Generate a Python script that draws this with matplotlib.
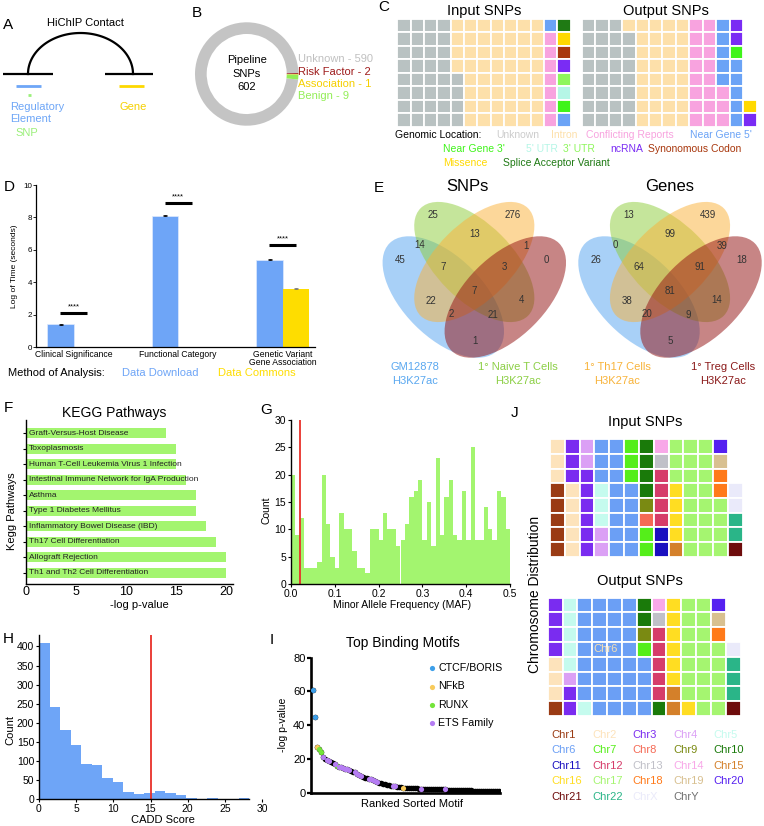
import numpy as np
import matplotlib
matplotlib.use('Agg')
import matplotlib.pyplot as plt
from matplotlib.patches import Ellipse, Rectangle

plt.rcParams['font.family'] = ['Liberation Sans', 'DejaVu Sans']

# ------------------------------------------------------------------ data
# B: pipeline SNP clinical significance
b_labels = ['Unknown', 'Risk Factor', 'Association', 'Benign']
b_values = [590, 2, 1, 9]
b_total = 602
b_colors = ['#c4c4c4', '#9e1b1b', '#ffd800', '#93ee57']
b_text_colors = ['#c0c0c0', '#9e1b1b', '#f5cf00', '#93ee57']

# C: genomic location waffles
c_codes = list('UICFTPQNYMA')
c_names = ['Unknown', 'Intron', 'Conflicting Reports', "Near Gene 5'", "Near Gene 3'",
           "5' UTR", "3' UTR", 'ncRNA', 'Synonomous Codon', 'Missence',
           'Splice Acceptor Variant']
c_colors = ['#b9c2c2', '#fde0aa', '#f8a3df', '#6ba3f6', '#3ff41a', '#b5f6e6',
            '#8ef65c', '#7a2cf4', '#a8370d', '#ffd900', '#1f7a14']
c_text_colors = ['#cccccc', '#fde0aa', '#f8a3df', '#6ba3f6', '#3ff41a', '#b5f6e6',
                 '#8ef65c', '#7a2cf4', '#a8370d', '#ffd900', '#1f7a14']
c_input_rows = ["UUUUIIIIIIIFA",
                "UUUUIIIIIIICM",
                "UUUUIIIIIIICY",
                "UUUUIIIIIIICN",
                "UUUUUIIIIIICQ",
                "UUUUUIIIIIICP",
                "UUUUUIIIIIICT",
                "UUUUUIIIIIICF"]
c_output_rows = ["UUUIIIIICCFN.",
                 "UUUUIIIICCFN.",
                 "UUUUIIIICCFT.",
                 "UUUUIIIICCFF.",
                 "UUUUIIIICCFF.",
                 "UUUUIIIICCCF.",
                 "UUUUIIIICCCFM",
                 "UUUUIIIICCCFN"]

# D: time comparison
d_categories = ['Clinical Significance', 'Functional Category',
                'Genetic Variant\nGene Association']
d_download = [1.4, 8.1, 5.4]
d_download_err = [0.03, 0.02, 0.05]
d_commons = [0.0, 0.0, 3.6]
d_commons_err = [0.0, 0.0, 0.03]
d_sig_heights = [2.1, 8.9, 6.3]
d_sig_marks = ['****', '****', '****']

# E: Venn diagrams
venn_set_labels = ['GM12878\nH3K27ac', '1° Naive T Cells\nH3K27ac',
                   '1° Th17 Cells\nH3K27ac', '1° Treg Cells\nH3K27ac']
venn_fill_colors = ['#53a3f0', '#8dcd39', '#fbb137', '#951515']
venn_label_colors = ['#5aa8f0', '#8ccf45', '#f8b33a', '#8b1a1a']
venn_regions = ['B', 'C', 'BC', 'AB', 'CD', 'A', 'D', 'ABC', 'BCD', 'ABCD',
                'AC', 'BD', 'ACD', 'ABD', 'AD']
venn_snps = [25, 276, 13, 14, 1, 45, 0, 7, 3, 7, 22, 4, 2, 21, 1]
venn_genes = [13, 439, 99, 0, 39, 26, 18, 64, 91, 81, 38, 14, 20, 9, 5]

# F: KEGG pathways
kegg_pathways = ['Graft-Versus-Host Disease', 'Toxoplasmosis',
                 'Human T-Cell Leukemia Virus 1 Infection',
                 'Intestinal Immune Network for IgA Production', 'Asthma',
                 'Type 1 Diabetes Mellitus', 'Inflammatory Bowel Disease (IBD)',
                 'Th17 Cell Differentiation', 'Allograft Rejection',
                 'Th1 and Th2 Cell Differentiation']
kegg_logp = [14, 15, 15, 16, 17, 17, 18, 19, 20, 20]

# G: minor allele frequency histogram (bin width 0.01)
maf_bin_width = 0.01
maf_counts = [20, 9, 12, 3, 3, 3, 4, 20, 11, 5, 3, 13, 10, 10, 6, 3, 3, 2, 10, 10,
              8, 13, 10, 10, 7, 8, 11, 16, 17, 19, 8, 15, 7, 23, 9, 16, 19, 9, 8, 17,
              8, 25, 8, 8, 14, 10, 8, 17, 16, 10]
maf_threshold = 0.02

# H: CADD score histogram
cadd_bin_width = 1.415
cadd_counts = [410, 242, 181, 142, 92, 90, 56, 45, 18, 14, 15, 20, 17, 10, 3, 1,
               3, 1, 1, 2]
cadd_threshold = 15

# I: ranked motifs (-log p-value by rank)
motif_logp = [61, 45, 27, 26, 24, 21, 20, 19.5, 19, 18, 17.5, 17, 16, 15.5, 15,
              14.5, 14, 14, 13.5, 13, 12.5, 12, 11, 10.5, 10, 9.5, 9, 8.5, 8, 8,
              7.5, 7, 6.5, 6, 5.5, 5, 5, 4.5, 4.5, 4, 4, 3.8, 3.5, 3.5, 3.2, 3,
              3, 3, 2.8, 2.8, 2.7, 2.5, 2.5, 2.3, 2.2, 2.2, 2, 2, 2, 2, 2, 2, 2,
              2, 2, 2, 2, 1.8, 1.8, 1.7, 1.7, 1.6, 1.6, 1.5, 1.5, 1.5, 1.5, 1.4,
              1.4, 1.4, 1.3, 1.3, 1.3, 1.2, 1.2, 1.2, 1.1, 1.1, 1.1, 1, 1, 1, 1, 1]
motif_families = ['CTCF/BORIS', 'NFkB', 'RUNX', 'ETS Family']
motif_family_colors = ['#3d9fe9', '#f8cb5c', '#74e43a', '#b57df3']
motif_family_ranks = [[1, 2],
                      [3, 46],
                      [4, 5, 13],
                      [6, 8, 9, 12, 14, 15, 16, 17, 18, 19, 22, 23, 24, 25, 29, 30,
                       31, 32, 33, 41, 42, 55, 67]]

# J: chromosome waffles
chr_names = ['Chr%d' % i for i in range(1, 23)] + ['ChrX', 'ChrY']
chr_colors = ['#9a3b14', '#fde3bb', '#7a2cf0', '#dba0f5', '#c5fbee', '#6b9ff5',
              '#55ee1a', '#f56a55', '#7a8a12', '#1a7a0a', '#1a10c0', '#d63c6a',
              '#c0c0c8', '#f8a8e8', '#d4802a', '#ffdd22', '#a5f570', '#ff7a1a',
              '#d8c090', '#5520f0', '#6e0c0c', '#2ab588', '#eaeafa', '#707070']
j_input_rows = [[2, 3, 4, 6, 6, 7, 10, 14, 17, 17, 17, 20, 0],
                [2, 3, 4, 6, 6, 7, 10, 13, 17, 17, 17, 19, 0],
                [2, 3, 3, 6, 6, 7, 10, 12, 17, 17, 17, 18, 0],
                [1, 2, 3, 5, 6, 6, 10, 12, 16, 17, 17, 18, 23],
                [1, 2, 3, 5, 6, 6, 9, 12, 16, 17, 17, 17, 23],
                [1, 2, 3, 5, 6, 6, 8, 12, 16, 17, 17, 17, 22],
                [1, 2, 3, 4, 6, 6, 7, 11, 16, 17, 17, 17, 22],
                [1, 2, 3, 4, 6, 6, 7, 11, 15, 17, 17, 17, 21]]
j_output_rows = [[3, 5, 6, 6, 6, 6, 10, 14, 16, 17, 17, 20, 0],
                 [3, 5, 6, 6, 6, 6, 10, 13, 16, 17, 17, 19, 0],
                 [3, 5, 6, 6, 6, 6, 9, 12, 16, 17, 17, 18, 0],
                 [3, 5, 6, 6, 6, 6, 7, 12, 16, 17, 17, 17, 23],
                 [2, 5, 6, 6, 6, 6, 6, 12, 16, 17, 17, 17, 22],
                 [2, 4, 6, 6, 6, 6, 6, 12, 16, 17, 17, 17, 22],
                 [2, 3, 6, 6, 6, 6, 6, 12, 15, 17, 17, 17, 22],
                 [1, 3, 5, 6, 6, 6, 6, 10, 15, 16, 17, 17, 21]]

# ------------------------------------------------------------------ helpers
W, H = 764, 826
fig = plt.figure(figsize=(W / 100, H / 100), dpi=100)
fig.patch.set_facecolor('white')


def px_axes(x0, y0, x1, y1):
    return fig.add_axes([x0 / W, 1 - y1 / H, (x1 - x0) / W, (y1 - y0) / H])


def ftext(x, y, s, **kw):
    kw.setdefault('ha', 'center')
    kw.setdefault('va', 'center')
    return fig.text(x / W, 1 - y / H, s, **kw)


def clean(ax, lw=1.0):
    for s in ['top', 'right']:
        ax.spines[s].set_visible(False)
    for s in ['left', 'bottom']:
        ax.spines[s].set_linewidth(lw)


def waffle(ax, rows, colormap, lw=1.3):
    nr, nc = len(rows), len(rows[0])
    for r, row in enumerate(rows):
        for c, code in enumerate(row):
            if code in colormap:
                ax.add_patch(Rectangle((c, r), 1, 1, facecolor=colormap[code],
                                       edgecolor='white', linewidth=lw))
    ax.set_xlim(0, nc)
    ax.set_ylim(nr, 0)
    ax.axis('off')


# overlay in pixel coordinates (diagram panel A)
ov = px_axes(0, 0, W, H)
ov.set_xlim(0, W)
ov.set_ylim(H, 0)
ov.axis('off')

# panel letters
for lab, x, y in [('A', 8, 25), ('B', 197, 13), ('C', 384, 7), ('D', 9, 187),
                  ('E', 379, 188), ('F', 8, 408), ('G', 266, 410), ('H', 8, 639),
                  ('I', 272, 640), ('J', 515, 413)]:
    ftext(x, y, lab, fontsize=11)

# ------------------------------------------------------------------ A
ov.plot([3, 53], [74, 74], color='black', lw=1.6, solid_capstyle='butt')
ov.plot([105, 153], [74, 74], color='black', lw=1.6, solid_capstyle='butt')
t = np.linspace(0, np.pi, 100)
ov.plot(80.5 + 52.5 * np.cos(t), 74 - 41 * np.sin(t), color='black', lw=1.6)
ov.plot([16, 41], [86, 86], color='#6ea6f7', lw=2.0, solid_capstyle='butt')
ov.plot([119, 144], [86, 86], color='#fdd800', lw=2.0, solid_capstyle='butt')
ov.plot([27.5, 30.5], [95, 95], color='#9bf07a', lw=2.0, solid_capstyle='butt')
ftext(85, 23.5, 'HiChIP Contact', fontsize=8)
ftext(10, 106.5, 'Regulatory', fontsize=8, ha='left', color='#6ea6f7')
ftext(10, 118.5, 'Element', fontsize=8, ha='left', color='#6ea6f7')
ftext(133, 106.5, 'Gene', fontsize=8, color='#f5d000')
ftext(27, 133, 'SNP', fontsize=8, color='#9bf07a')

# ------------------------------------------------------------------ B
axb = px_axes(195, 22.3, 298.4, 125.7)
axb.pie(b_values, colors=b_colors, startangle=-6.2, counterclock=False,
        wedgeprops=dict(width=0.226, linewidth=0))
axb.set_xlim(-1, 1)
axb.set_ylim(-1, 1)
axb.set_aspect('equal')
ftext(246.7, 60, 'Pipeline', fontsize=8)
ftext(246.7, 74, 'SNPs', fontsize=8)
ftext(246.7, 87.5, str(b_total), fontsize=8)
for i, (lab, val) in enumerate(zip(b_labels, b_values)):
    ftext(298, 59.3 + 12.3 * i, '%s - %d' % (lab, val), fontsize=8, ha='left',
          color=b_text_colors[i])

# ------------------------------------------------------------------ C
cmap_c = dict(zip(c_codes, c_colors))
axc1 = px_axes(397.3, 19, 570.7, 126.7)
waffle(axc1, c_input_rows, cmap_c)
axc2 = px_axes(581.7, 19, 756.7, 126.7)
waffle(axc2, c_output_rows, cmap_c)
ftext(484, 11.5, 'Input SNPs', fontsize=10.5)
ftext(666, 11.5, 'Output SNPs', fontsize=10.5)
ftext(395, 135.5, 'Genomic Location:', fontsize=7.5, ha='left')
c_leg_x = [496.7, 550.7, 586, 690, 443.3, 525.7, 562.7, 610, 648.3, 443.3, 502.7]
c_leg_y = [135.5] * 4 + [149.5] * 5 + [163] * 2
for name, col, x, y in zip(c_names, c_text_colors, c_leg_x, c_leg_y):
    ftext(x, y, name, fontsize=7.5, ha='left', color=col)

# ------------------------------------------------------------------ D
axd = px_axes(36, 185, 315, 347)
xg = np.arange(len(d_categories))
bw = 0.25
axd.bar(xg - bw / 2, d_download, bw, color='#6ea5f7', edgecolor='#dfeafd',
        linewidth=0.5, yerr=d_download_err, error_kw=dict(lw=0.6, capsize=1.2,
                                                           capthick=0.6))
cm = np.array(d_commons)
sel = cm > 0
axd.bar(xg[sel] + bw / 2, cm[sel], bw, color='#fedd00', linewidth=0,
        yerr=np.array(d_commons_err)[sel],
        error_kw=dict(lw=0.6, capsize=1.2, capthick=0.6, ecolor='#777777'))
for x, h, s in zip(xg, d_sig_heights, d_sig_marks):
    axd.plot([x - 0.13, x + 0.13], [h, h], color='black', lw=2.2,
             solid_capstyle='butt')
    axd.text(x, h + 0.18, s, ha='center', va='bottom', fontsize=5.5)
axd.set_xlim(-0.36, 2.31)
axd.set_ylim(0, 10)
axd.set_yticks([0, 2, 4, 6, 8, 10])
axd.set_xticks(xg)
axd.set_xticklabels(d_categories, fontsize=6.2, linespacing=0.95)
axd.tick_params(axis='x', length=0, pad=2)
axd.tick_params(axis='y', labelsize=5.8, length=2, width=0.6, pad=1)
clean(axd, 0.9)
ftext(15, 266, 'Log of Time (seconds)', fontsize=6, rotation=90)
ftext(8, 373, 'Method of Analysis:', fontsize=8, ha='left')
ftext(122, 373, 'Data Download', fontsize=8, ha='left', color='#6ea5f7')
ftext(218, 373, 'Data Commons', fontsize=8, ha='left', color='#fedd00')

# ------------------------------------------------------------------ E
axe = px_axes(380, 170, 764, 390)
axe.set_xlim(380, 764)
axe.set_ylim(390, 170)
axe.axis('off')
region_pos = {'B': (-41, 215), 'C': (38, 215), 'BC': (0, 234), 'AB': (-54.5, 245.5),
              'CD': (52, 246), 'A': (-74, 260), 'D': (72, 260), 'ABC': (-31, 266.7),
              'BCD': (30, 266.7), 'ABCD': (0, 291), 'AC': (-43, 300.5),
              'BD': (47, 300), 'ACD': (-23.3, 314), 'ABD': (18.7, 315),
              'AD': (0.5, 341)}


def venn(cx, counts, title):
    shapes = [((cx - 31, 297), 152, 80, 45),
              ((cx, 262), 152, 76, 45),
              ((cx, 262), 152, 76, -45),
              ((cx + 31, 297), 152, 80, -45)]
    alphas = [0.5, 0.5, 0.5, 0.52]
    for (xy, w, h, ang), col, a in zip(shapes, venn_fill_colors, alphas):
        axe.add_patch(Ellipse(xy, w, h, angle=ang, facecolor=col, alpha=a,
                              edgecolor='none'))
    for reg, n in zip(venn_regions, counts):
        dx, y = region_pos[reg]
        axe.text(cx + dx, y, str(n), ha='center', va='center', fontsize=7,
                 color='#333333')
    ftext(cx - 7 if title == 'SNPs' else cx, 186.5, title, fontsize=12)


venn(474.3, venn_snps, 'SNPs')
venn(670, venn_genes, 'Genes')
for lab, col, x in zip(venn_set_labels, venn_label_colors, [415, 518.3, 617.3, 723.3]):
    l1, l2 = lab.split('\n')
    ftext(x, 367.5, l1, fontsize=8, color=col)
    ftext(x, 381, l2, fontsize=8, color=col)

# ------------------------------------------------------------------ F
axf = px_axes(26, 420, 233, 584)
yk = np.arange(len(kegg_pathways))
axf.barh(yk, kegg_logp, height=0.65, color='#a3f56f', linewidth=0)
for y, name in zip(yk, kegg_pathways):
    axf.text(0.3, y, name, ha='left', va='center', fontsize=6, color='#222222')
axf.set_ylim(9.71, -0.84)
axf.set_xlim(0, 20.7)
axf.set_yticks(yk)
axf.set_yticklabels([])
axf.set_xticks([0, 5, 10, 15, 20])
axf.tick_params(axis='y', length=2.5, width=0.8)
axf.tick_params(axis='x', length=0, width=0.8, labelsize=9, pad=1.5)
clean(axf, 1.0)
ftext(114, 413, 'KEGG Pathways', fontsize=10)
ftext(12, 511, 'Kegg Pathways', fontsize=8, rotation=90)
ftext(139, 605, '-log p-value', fontsize=8)

# ------------------------------------------------------------------ G
axg = px_axes(291, 420, 510, 584)
edges_g = np.arange(len(maf_counts)) * maf_bin_width
axg.bar(edges_g, maf_counts, width=maf_bin_width, align='edge', color='#a3f56f',
        linewidth=0)
axg.plot([maf_threshold, maf_threshold], [0, 30], color='#e8302a', lw=1.3)
axg.set_xlim(0, 0.5)
axg.set_ylim(0, 30)
axg.set_xticks([0, 0.1, 0.2, 0.3, 0.4, 0.5])
axg.set_xticklabels(['0.0', '0.1', '0.2', '0.3', '0.4', '0.5'])
axg.set_yticks([0, 5, 10, 15, 20, 25, 30])
axg.tick_params(labelsize=7.5, length=2.5, width=0.8, pad=1)
clean(axg, 1.0)
ftext(267, 510, 'Count', fontsize=7.5, rotation=90)
ftext(402, 605, 'Minor Allele Frequency (MAF)', fontsize=7.5)

# ------------------------------------------------------------------ H
axh = px_axes(39, 635, 262, 799)
edges_h = np.arange(len(cadd_counts)) * cadd_bin_width
axh.bar(edges_h, cadd_counts, width=cadd_bin_width, align='edge', color='#6ea5f7',
        linewidth=0)
axh.plot([cadd_threshold, cadd_threshold], [0, 430], color='#e8302a', lw=1.3)
axh.set_xlim(0, 30)
axh.set_ylim(0, 430)
axh.set_xticks([0, 5, 10, 15, 20, 25, 30])
axh.set_yticks(np.arange(0, 401, 50))
axh.tick_params(labelsize=7.5, length=2.5, width=0.8, pad=1)
clean(axh, 1.0)
axh.spines['bottom'].set_bounds(0, len(cadd_counts) * cadd_bin_width)
ftext(10, 730, 'Count', fontsize=8, rotation=90)
ftext(163, 820, 'CADD Score', fontsize=8)

# ------------------------------------------------------------------ I
axi = px_axes(311, 657.7, 500, 792.7)
ranks = np.arange(1, len(motif_logp) + 1)
axi.scatter(ranks, motif_logp, s=16, color='black', linewidths=0, zorder=2)
for fam, col, rk in zip(motif_families, motif_family_colors, motif_family_ranks):
    rk = np.array(rk)
    axi.scatter(rk, np.array(motif_logp)[rk - 1], s=14, color=col, linewidths=0,
                zorder=3, label=fam)
axi.set_xlim(0, len(motif_logp) + 0.5)
axi.set_ylim(0, 80)
axi.set_xticks([])
axi.set_yticks([0, 20, 40, 60, 80])
axi.tick_params(axis='y', labelsize=8, length=3, width=1.6, pad=1)
clean(axi, 1.9)
axi.legend(loc='upper left', bbox_to_anchor=(428.5 / W, 1 - 663 / H),
           bbox_transform=fig.transFigure, frameon=False, fontsize=7.7,
           scatterpoints=1, handlelength=0.6, handletextpad=0.3,
           labelspacing=0.78, borderpad=0, borderaxespad=0)
ftext(403, 643, 'Top Binding Motifs', fontsize=10)
ftext(283, 725, '-log p-value', fontsize=7.5, rotation=90)
ftext(412, 804, 'Ranked Sorted Motif', fontsize=8)

# ------------------------------------------------------------------ J
cmap_j = {i + 1: c for i, c in enumerate(chr_colors)}
axj1 = px_axes(550, 439.3, 742.7, 556.7)
waffle(axj1, j_input_rows, cmap_j)
axj2 = px_axes(547.7, 597.5, 740.7, 716)
waffle(axj2, j_output_rows, cmap_j)
axj2.text(3.9, 3.5, 'Chr6', ha='center', va='center', fontsize=8, color='#f3dfb5')
ftext(645, 422, 'Input SNPs', fontsize=10.5)
ftext(640, 581, 'Output SNPs', fontsize=10.5)
ftext(535, 594, 'Chromosome Distribution', fontsize=10, rotation=90)
for i, (name, col) in enumerate(zip(chr_names, chr_colors)):
    r, c = divmod(i, 5)
    ftext(551.7 + 40.4 * c, 734.5 + 15.6 * r, name, fontsize=8, ha='left', color=col)

fig.savefig('out.png', dpi=100, facecolor='white')
